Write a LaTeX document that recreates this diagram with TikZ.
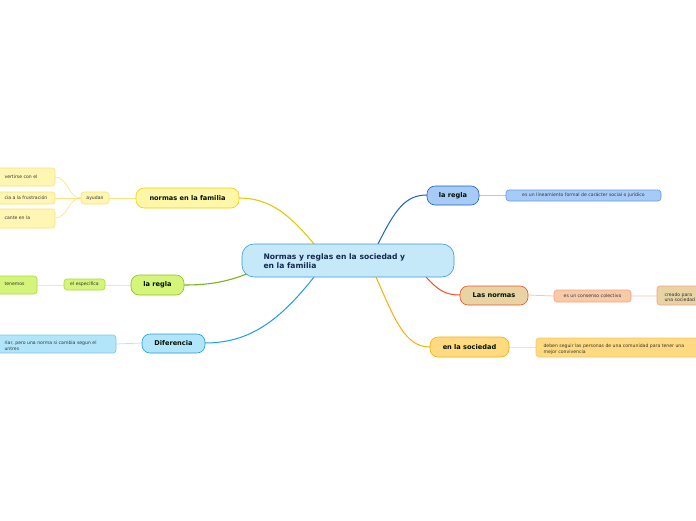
\documentclass[tikz,border=0pt]{standalone}
\usepackage{fontspec}
\setmainfont{DejaVu Sans}
\begin{document}
\begin{tikzpicture}[x=1pt,y=-1pt,
 box/.style={rounded corners=#1,line width=0.6pt,inner sep=0pt},
 lf/.style={font=\fontsize{4.6}{5.6}\selectfont,align=left,text=black!80},
 bt/.style={font=\fontsize{6.6}{8}\selectfont\bfseries,text=black!80!green!30!black}]
\useasboundingbox (0,0) rectangle (696,520);
\clip (0,0) rectangle (696,520);
\definecolor{cblue}{HTML}{3A9AD9}
% shapes (drawn as rectangles, then text nodes)
\newcommand\bx[6]{\draw[box=#6,draw=#4,fill=#5] (#1) rectangle (#2); \path (#1) -- (#2) node[midway,inner sep=0](#3){};}
% connectors
\coordinate (c1) at (314,244); \coordinate (c2) at (249,273); \coordinate (c3) at (314,277);
\coordinate (c4) at (378,244); \coordinate (c5) at (426,277); \coordinate (c6) at (376,277);
\draw[line width=1.1pt,color={rgb,255:red,232;green,200;blue,0}] (c1) .. controls (290,215) and (270,198) .. (239,198);
\draw[line width=1.1pt,color={rgb,255:red,122;green,179;blue,23}] (c2) .. controls (225,283) and (205,285) .. (184,285);
\draw[line width=1pt,color={rgb,255:red,26;green,160;blue,224}] (c3) .. controls (280,320) and (250,343) .. (205,343);
\draw[line width=1pt,color={rgb,255:red,26;green,95;blue,208}] (c4) .. controls (395,210) and (405,195) .. (427,195);
\draw[line width=1pt,color={rgb,255:red,240;green,80;blue,34}] (c5) .. controls (438,290) and (445,295) .. (460,295);
\draw[line width=1pt,color={rgb,255:red,245;green,176;blue,0}] (c6) .. controls (395,320) and (405,347) .. (430,347);
% thin links
\draw[yellow!60!orange!50,line width=0.6pt] (109,198) -- (136,198);
\draw[yellow!60!orange!50,line width=0.6pt] (81,198) .. controls (68,198) and (68,177) .. (55,177);
\draw[yellow!60!orange!50,line width=0.6pt] (81,198) -- (55,198);
\draw[yellow!60!orange!50,line width=0.6pt] (81,198) .. controls (68,198) and (68,218) .. (55,218);
\draw[green!50!yellow!40,line width=0.8pt] (37,285) -- (64,285) (105,285) -- (131,285);
\draw[cyan!30,line width=0.8pt] (116,344) -- (142,343);
\draw[blue!25,line width=0.8pt] (479,195) -- (506,195);
\draw[red!25,line width=0.8pt] (528,295) -- (554,296) (631,296) -- (657,296);
\draw[orange!25,line width=0.8pt] (509,347) -- (536,347);
% center
\draw[box=12pt,draw=cblue,fill={rgb,255:red,198;green,233;blue,250}] (242,244) rectangle (454,277);
\node[anchor=west,align=left,font=\fontsize{7.6}{9.5}\selectfont\bfseries,text={rgb,255:red,20;green,40;blue,80}] (center) at (260,261) {Normas y reglas en la sociedad y\\en la familia};
% branches
\draw[box=8pt,draw={rgb,255:red,240;green,208;blue,0},fill={rgb,255:red,255;green,246;blue,168}] (136,188) rectangle (239,208);
\node[bt] (fam) at (187.5,198) {normas en la familia};
\draw[box=8pt,draw={rgb,255:red,141;green,194;blue,31},fill={rgb,255:red,212;green,245;blue,122}] (131,275) rectangle (184,295);
\node[bt] (regla1) at (157.5,285) {la regla};
\draw[box=8pt,draw={rgb,255:red,26;green,160;blue,224},fill={rgb,255:red,179;green,229;blue,250}] (142,334) rectangle (205,353);
\node[bt] (dif) at (173.5,343.5) {Diferencia};
\draw[box=8pt,draw={rgb,255:red,26;green,95;blue,208},fill={rgb,255:red,167;green,203;blue,247}] (427,186) rectangle (479,205);
\node[bt] (regla2) at (453,195.5) {la regla};
\draw[box=8pt,draw={rgb,255:red,240;green,80;blue,34},fill={rgb,255:red,232;green,211;blue,165}] (460,286) rectangle (528,305);
\node[bt] (normas) at (494,295.5) {Las normas};
\draw[box=8pt,draw={rgb,255:red,245;green,176;blue,0},fill={rgb,255:red,255;green,218;blue,128}] (430,337) rectangle (509,357);
\node[bt] (soc) at (469.5,347) {en la sociedad};
% leaves
\draw[box=3pt,draw={rgb,255:red,250;green,225;blue,120},fill={rgb,255:red,255;green,246;blue,180}] (81,192) rectangle (109,204);
\node[lf] (ayu) at (95,198) {ayudan};
\draw[box=3pt,draw={rgb,255:red,250;green,225;blue,120},fill={rgb,255:red,255;green,246;blue,180}] (-5,168) rectangle (55,186);
\node[lf,anchor=north west] (l1) at (1,171) {vertirse con el};
\draw[box=3pt,draw={rgb,255:red,250;green,225;blue,120},fill={rgb,255:red,255;green,246;blue,180}] (-5,192) rectangle (55,204);
\node[lf,anchor=west] (l2) at (1,198) {cia a la frustración};
\draw[box=3pt,draw={rgb,255:red,250;green,225;blue,120},fill={rgb,255:red,255;green,246;blue,180}] (-5,209) rectangle (55,228);
\node[lf,anchor=north west] (l3) at (1,212) {cante en la};
\draw[box=3pt,draw={rgb,255:red,170;green,215;blue,60},fill={rgb,255:red,212;green,245;blue,122}] (64,279) rectangle (105,290);
\node[lf] (esp) at (84.5,284.5) {el especifica};
\draw[box=3pt,draw={rgb,255:red,170;green,215;blue,60},fill={rgb,255:red,212;green,245;blue,122}] (-5,276) rectangle (37,294);
\node[lf,anchor=north west] (l4) at (1,279) {tenemos};
\draw[box=3pt,draw={rgb,255:red,120;green,200;blue,240},fill={rgb,255:red,179;green,229;blue,250}] (-5,335) rectangle (116,353);
\node[lf,anchor=north west] (l5) at (1,337.5) {riar, pero una norma si cambia segun el\\untres};
\draw[box=3pt,draw={rgb,255:red,100;green,150;blue,240},fill={rgb,255:red,167;green,203;blue,247}] (506,190) rectangle (661,201);
\node[lf] (r2) at (583.5,195.5) {es un lineamiento formal de carácter social o jurídico};
\draw[box=3pt,draw={rgb,255:red,245;green,160;blue,128},fill={rgb,255:red,248;green,203;blue,168}] (554,290) rectangle (631,302);
\node[lf] (cons) at (592.5,296) {es un consenso colectivo};
\draw[box=3pt,draw={rgb,255:red,245;green,160;blue,128},fill={rgb,255:red,232;green,211;blue,165}] (657,286) rectangle (705,305);
\node[lf,anchor=north west] (cre) at (661,289) {creado para\\una sociedad};
\draw[box=3pt,draw={rgb,255:red,245;green,200;blue,100},fill={rgb,255:red,255;green,218;blue,128}] (536,338) rectangle (705,357);
\node[lf,anchor=north west] (deb) at (540,340.5) {deben seguir las personas de una comunidad para tener una\\mejor convivencia};
\end{tikzpicture}
\end{document}
